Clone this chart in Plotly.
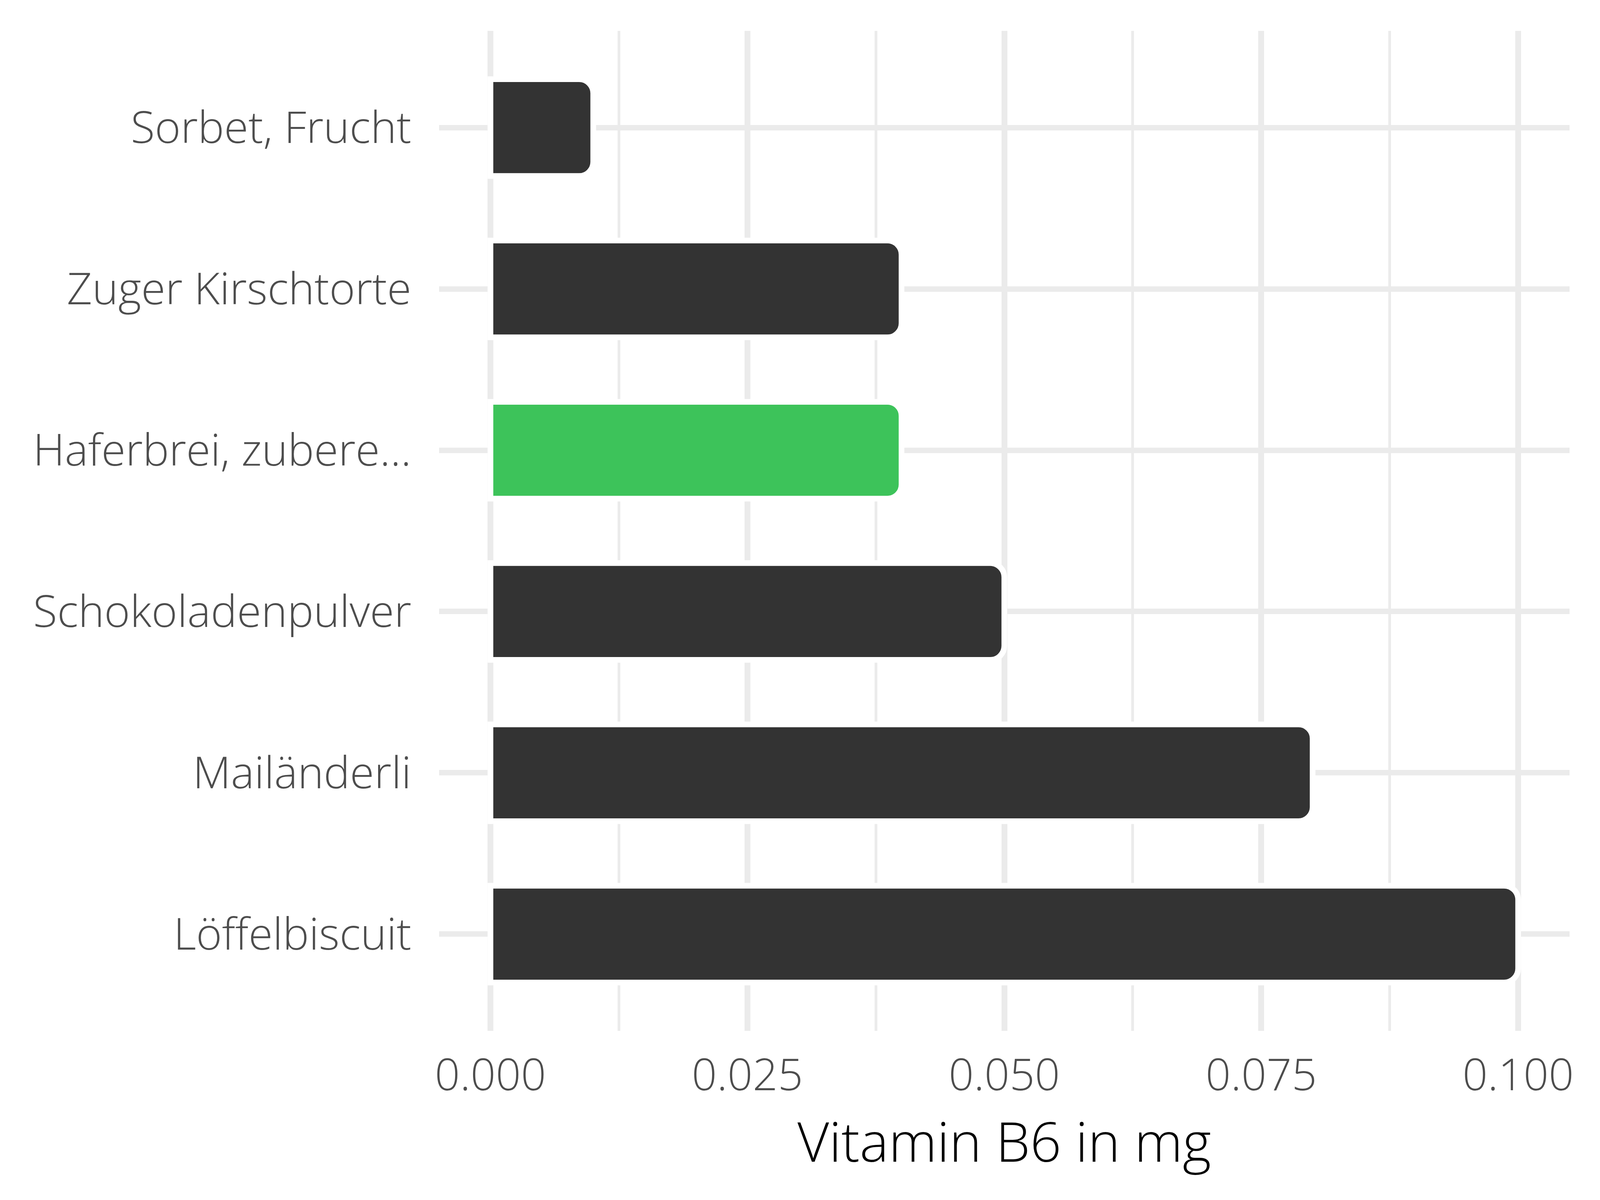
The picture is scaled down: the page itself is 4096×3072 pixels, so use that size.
import plotly.graph_objects as go

# Data (top to bottom in the chart)
categories = ["Sorbet, Frucht", "Zuger Kirschtorte", "Haferbrei, zubere...",
              "Schokoladenpulver", "Mailänderli", "Löffelbiscuit"]
values = [0.01, 0.04, 0.04, 0.05, 0.08, 0.10]
highlight = "Haferbrei, zubere..."
x_ticks = [0.0, 0.025, 0.05, 0.075, 0.1]
x_tick_labels = ["0.000", "0.025", "0.050", "0.075", "0.100"]
x_title = "Vitamin B6 in mg"

DARK = "#333333"
GREEN = "#3DC35A"
GRID = "#EBEBEB"
FONT = "Open Sans"

# Plotly draws categories bottom-up; reverse so first is at top
cats_plot = categories[::-1]
vals_plot = values[::-1]
colors = [GREEN if c == highlight else DARK for c in cats_plot]

fig = go.Figure()
fig.add_trace(go.Bar(
    x=vals_plot, y=cats_plot, orientation="h",
    width=0.6,
    marker=dict(color=colors, line=dict(color="white", width=14.5), cornerradius=36),
    hoverinfo="x+y",
))

W, H = 4096, 3072
fig.update_layout(
    width=W, height=H,
    margin=dict(l=1116, r=86, t=71, b=441, pad=0),
    paper_bgcolor="white", plot_bgcolor="white",
    showlegend=False,
    font=dict(family=FONT, color="#4D4D4D", size=113),
    bargap=0.4,
)
fig.update_xaxes(
    range=[-0.005, 0.105],
    tickmode="array", tickvals=x_ticks, ticktext=x_tick_labels,
    showgrid=True, gridcolor=GRID, gridwidth=14.5,
    minor=dict(dtick=0.0125, tick0=0, showgrid=True, gridcolor=GRID, gridwidth=7),
    zeroline=False, showline=False, ticks="",
    ticklabelstandoff=38,
    tickfont=dict(family=FONT, size=113, color="#4D4D4D", weight=350),
    title=dict(text=x_title, font=dict(family=FONT, size=140, color="black", weight=350), standoff=20),
)
fig.update_yaxes(
    type="category", categoryorder="array", categoryarray=cats_plot,
    range=[-0.6, 5.6],
    showgrid=True, gridcolor=GRID, gridwidth=14.2,
    zeroline=False, showline=False, ticks="",
    ticklabelstandoff=70,
    tickfont=dict(family=FONT, size=113, color="#4D4D4D", weight=350),
)

fig.write_html("out.html")
